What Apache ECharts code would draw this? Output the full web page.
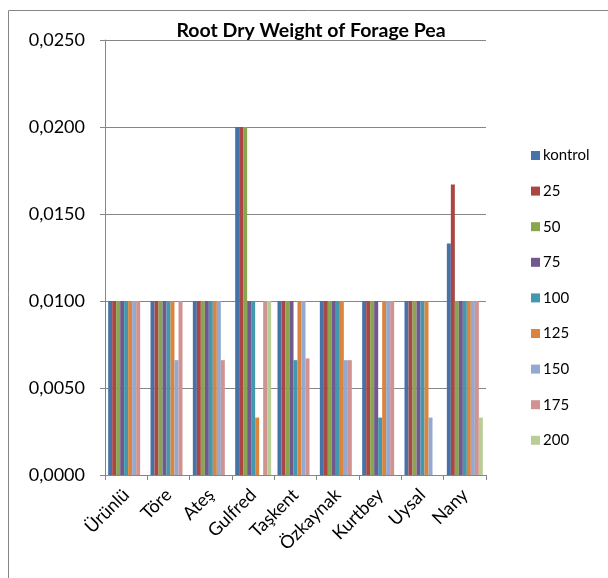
<!DOCTYPE html>
<html>
<head>
<meta charset="utf-8">
<script src="https://cdn.jsdelivr.net/npm/echarts@6/dist/echarts.min.js"></script>
<style>
  html, body { margin: 0; padding: 0; background: #fff; }
  #chart { width: 608px; height: 578px; }
</style>
</head>
<body>
<div id="chart"></div>
<script>
// Cultivars on the category axis
const cultivars = ['Ürünlü', 'Töre', 'Ateş', 'Gulfred', 'Taşkent', 'Özkaynak', 'Kurtbey', 'Uysal', 'Nany'];

// Root dry weight per treatment, one value per cultivar
const kontrol = [0.0100, 0.0100, 0.0100, 0.0200, 0.0100, 0.0100, 0.0100, 0.0100, 0.0133];
const t25     = [0.0100, 0.0100, 0.0100, 0.0200, 0.0100, 0.0100, 0.0100, 0.0100, 0.0167];
const t50     = [0.0100, 0.0100, 0.0100, 0.0200, 0.0100, 0.0100, 0.0100, 0.0100, 0.0100];
const t75     = [0.0100, 0.0100, 0.0100, 0.0100, 0.0100, 0.0100, 0.0100, 0.0100, 0.0100];
const t100    = [0.0100, 0.0100, 0.0100, 0.0100, 0.0066, 0.0100, 0.0033, 0.0100, 0.0100];
const t125    = [0.0100, 0.0100, 0.0100, 0.0033, 0.0100, 0.0100, 0.0100, 0.0100, 0.0100];
const t150    = [0.0100, 0.0066, 0.0100, 0.0000, 0.0100, 0.0066, 0.0100, 0.0033, 0.0100];
const t175    = [0.0100, 0.0100, 0.0066, 0.0100, 0.0067, 0.0066, 0.0100, 0.0000, 0.0100];
const t200    = [0.0000, 0.0000, 0.0000, 0.0100, 0.0000, 0.0000, 0.0000, 0.0000, 0.0033];

const seriesNames = ['kontrol', '25', '50', '75', '100', '125', '150', '175', '200'];
const seriesData = [kontrol, t25, t50, t75, t100, t125, t150, t175, t200];
const seriesColors = ['#4572A7', '#AA4643', '#89A54E', '#71588F', '#4198AF', '#DB843D', '#93A9CF', '#D19392', '#B9CD96'];

// Value axis ticks
const yMin = 0, yMax = 0.025, yStep = 0.005;

const FONT = 'Lato, "Open Sans", sans-serif';
const GREY = '#868686';

const chart = echarts.init(document.getElementById('chart'), null, { renderer: 'canvas' });

chart.setOption({
  animation: false,
  backgroundColor: '#fff',
  color: seriesColors,
  title: {
    text: 'Root Dry Weight of Forage Pea',
    left: 306,
    textAlign: 'center',
    top: 16,
    textStyle: { fontFamily: FONT, fontWeight: 'bold', fontSize: 19.5, color: '#000' }
  },
  legend: {
    orient: 'vertical',
    left: 526,
    top: 143,
    itemWidth: 9,
    itemHeight: 9,
    itemGap: 20.6,
    icon: 'rect',
    data: seriesNames,
    textStyle: { fontFamily: FONT, fontSize: 15, color: '#000', padding: [0, 0, 0, -2] }
  },
  grid: { left: 105, top: 40, right: 122, bottom: 103, containLabel: false },
  xAxis: {
    type: 'category',
    data: cultivars,
    axisLine: { lineStyle: { color: GREY, width: 1 } },
    axisTick: { show: true, alignWithLabel: false, length: 5, lineStyle: { color: GREY } },
    axisLabel: { rotate: 45, margin: 17, fontFamily: FONT, fontSize: 18, color: '#000', interval: 0 }
  },
  yAxis: {
    type: 'value',
    min: yMin,
    max: yMax,
    interval: yStep,
    axisLine: { show: true, lineStyle: { color: GREY, width: 1 } },
    axisTick: { show: true, length: 5, lineStyle: { color: GREY } },
    splitLine: { show: true, lineStyle: { color: GREY, width: 1 } },
    axisLabel: {
      margin: 20,
      fontFamily: FONT,
      fontSize: 18,
      color: '#000',
      formatter: v => v.toFixed(4).replace('.', ',')
    }
  },
  series: seriesNames.map((name, i) => ({
    name,
    type: 'bar',
    data: seriesData[i],
    barGap: '0%',
    barCategoryGap: '15%',
    itemStyle: { color: seriesColors[i] }
  })),
  graphic: [{
    type: 'rect',
    shape: { x: 8.5, y: 10.5, width: 800, height: 800 },
    style: { fill: 'none', stroke: GREY, lineWidth: 1 },
    silent: true,
    z: -1
  }]
});
</script>
</body>
</html>
